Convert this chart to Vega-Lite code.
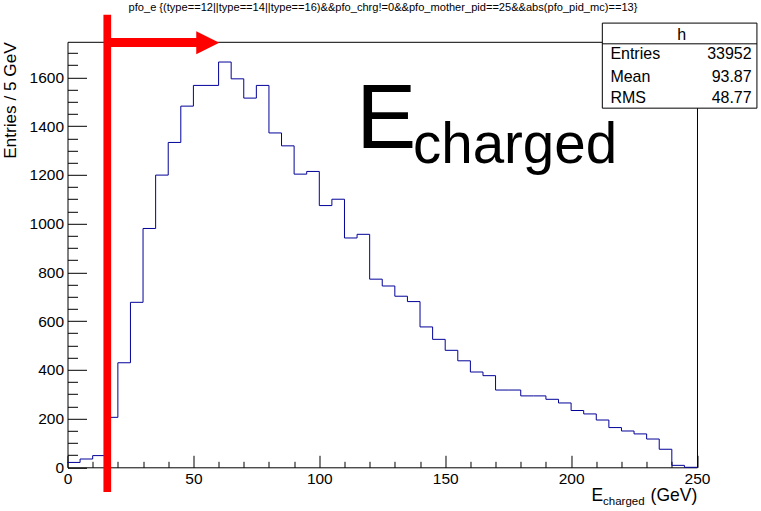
{
  "$schema": "https://vega.github.io/schema/vega-lite/v6.json",
  "autosize": "none",
  "width": 629.5,
  "height": 425.5,
  "padding": {"left": 67.5, "top": 41.8, "right": 64, "bottom": 44},
  "background": "white",
  "config": {
    "font": "Liberation Sans",
    "view": {"stroke": "black", "strokeWidth": 1},
    "axis": {"labelFont": "Liberation Sans", "labelFontSize": 15.5, "labelColor": "black", "tickColor": "black", "tickWidth": 1, "domain": false, "grid": false, "labelFlush": false, "labelOverlap": false, "titleFont": "Liberation Sans", "titleColor": "black"}
  },
  "resolve": {"axis": {"x": "independent", "y": "independent"}},
  "layer": [
    {
      "data": {"values": [
        {"e": 0, "n": 20}, {"e": 5, "n": 34}, {"e": 10, "n": 48}, {"e": 15, "n": 205}, {"e": 20, "n": 429},
        {"e": 25, "n": 677}, {"e": 30, "n": 980}, {"e": 35, "n": 1199}, {"e": 40, "n": 1333}, {"e": 45, "n": 1482},
        {"e": 50, "n": 1567}, {"e": 55, "n": 1567}, {"e": 60, "n": 1663}, {"e": 65, "n": 1594}, {"e": 70, "n": 1515},
        {"e": 75, "n": 1567}, {"e": 80, "n": 1372}, {"e": 85, "n": 1319}, {"e": 90, "n": 1203}, {"e": 95, "n": 1214},
        {"e": 100, "n": 1074}, {"e": 105, "n": 1100}, {"e": 110, "n": 941}, {"e": 115, "n": 956}, {"e": 120, "n": 772},
        {"e": 125, "n": 744}, {"e": 130, "n": 702}, {"e": 135, "n": 680}, {"e": 140, "n": 576}, {"e": 145, "n": 525},
        {"e": 150, "n": 480}, {"e": 155, "n": 437}, {"e": 160, "n": 391}, {"e": 165, "n": 376}, {"e": 170, "n": 317},
        {"e": 175, "n": 317}, {"e": 180, "n": 293}, {"e": 185, "n": 293}, {"e": 190, "n": 279}, {"e": 195, "n": 264},
        {"e": 200, "n": 233}, {"e": 205, "n": 219}, {"e": 210, "n": 194}, {"e": 215, "n": 163}, {"e": 220, "n": 149},
        {"e": 225, "n": 137}, {"e": 230, "n": 116}, {"e": 235, "n": 74}, {"e": 240, "n": 8}, {"e": 245, "n": 0},
        {"e": 250, "n": 0}
      ]},
      "mark": {"type": "line", "interpolate": "step-after", "color": "#000099", "strokeWidth": 1},
      "encoding": {
        "x": {"field": "e", "type": "quantitative", "scale": {"domain": [0, 250], "nice": false, "zero": false},
          "axis": {"orient": "bottom", "values": [0, 50, 100, 150, 200, 250], "tickSize": -12, "labelPadding": 16, "title": null, "format": "d"}},
        "y": {"field": "n", "type": "quantitative", "scale": {"domain": [0, 1746], "nice": false},
          "axis": {"orient": "left", "values": [0, 200, 400, 600, 800, 1000, 1200, 1400, 1600], "tickSize": -19, "labelPadding": 23, "format": "d",
            "title": "Entries / 5 GeV", "titleFontSize": 17.2, "titleFontWeight": "normal", "titleX": -52, "titleY": 0, "titleAlign": "right", "titleAngle": -90, "titleBaseline": "alphabetic"}}
      }
    },
    {
      "data": {"values": [{"e": 15.8, "lo": -101, "hi": 1857}]},
      "mark": {"type": "rule", "color": "#ff0000", "strokeWidth": 7.7},
      "encoding": {
        "x": {"field": "e", "type": "quantitative",
          "axis": {"orient": "bottom", "values": [10, 20, 30, 40, 60, 70, 80, 90, 110, 120, 130, 140, 160, 170, 180, 190, 210, 220, 230, 240], "tickSize": -6, "labels": false, "title": null}},
        "y": {"field": "lo", "type": "quantitative",
          "axis": {"orient": "left", "values": [50, 100, 150, 250, 300, 350, 450, 500, 550, 650, 700, 750, 850, 900, 950, 1050, 1100, 1150, 1250, 1300, 1350, 1450, 1500, 1550, 1650, 1700], "tickSize": -10, "labels": false, "title": null}},
        "y2": {"field": "hi"}
      }
    },
    {
      "data": {"values": [{"e": 15.8, "e2": 52.5, "n": 1743}]},
      "mark": {"type": "rule", "color": "#ff0000", "strokeWidth": 9},
      "encoding": {
        "x": {"field": "e", "type": "quantitative", "axis": null},
        "x2": {"field": "e2"},
        "y": {"field": "n", "type": "quantitative", "axis": null}
      }
    },
    {
      "data": {"values": [{"e": 55.7, "n": 1742}]},
      "mark": {"type": "point", "shape": "M-1,-1L1,0L-1,1Z", "size": 529, "filled": true, "color": "#ff0000", "opacity": 1},
      "encoding": {
        "x": {"field": "e", "type": "quantitative", "axis": null},
        "y": {"field": "n", "type": "quantitative", "axis": null}
      }
    },
    {
      "data": {"values": [{"e1": 212.4, "e2": 273.8, "n1": 1473.7, "n2": 1822.7}]},
      "mark": {"type": "rect", "fill": "white", "stroke": "black", "strokeWidth": 1},
      "encoding": {
        "x": {"field": "e1", "type": "quantitative", "axis": null},
        "x2": {"field": "e2"},
        "y": {"field": "n1", "type": "quantitative", "axis": null},
        "y2": {"field": "n2"}
      }
    },
    {
      "data": {"values": [{"e1": 212.4, "e2": 273.8, "n": 1737.7}]},
      "mark": {"type": "rule", "color": "black", "strokeWidth": 1},
      "encoding": {
        "x": {"field": "e1", "type": "quantitative", "axis": null},
        "x2": {"field": "e2"},
        "y": {"field": "n", "type": "quantitative", "axis": null}
      }
    },
    {
      "data": {"values": [{"t": "h", "e": 243.9, "n": 1754}]},
      "mark": {"type": "text", "align": "center", "baseline": "alphabetic", "fontSize": 16, "color": "black"},
      "encoding": {
        "x": {"field": "e", "type": "quantitative", "axis": null},
        "y": {"field": "n", "type": "quantitative", "axis": null},
        "text": {"field": "t"}
      }
    },
    {
      "data": {"values": [
        {"t": "Entries", "e": 215.6, "n": 1675},
        {"t": "Mean", "e": 215.6, "n": 1583},
        {"t": "RMS", "e": 215.6, "n": 1494}
      ]},
      "mark": {"type": "text", "align": "left", "baseline": "alphabetic", "fontSize": 16, "color": "black"},
      "encoding": {
        "x": {"field": "e", "type": "quantitative", "axis": null},
        "y": {"field": "n", "type": "quantitative", "axis": null},
        "text": {"field": "t"}
      }
    },
    {
      "data": {"values": [
        {"t": "33952", "e": 271.7, "n": 1675},
        {"t": "93.87", "e": 271.7, "n": 1583},
        {"t": "48.77", "e": 271.7, "n": 1494}
      ]},
      "mark": {"type": "text", "align": "right", "baseline": "alphabetic", "fontSize": 16, "color": "black"},
      "encoding": {
        "x": {"field": "e", "type": "quantitative", "axis": null},
        "y": {"field": "n", "type": "quantitative", "axis": null},
        "text": {"field": "t"}
      }
    },
    {
      "data": {"values": [{"t": "E", "e": 114.7, "n": 1309.5}]},
      "mark": {"type": "text", "align": "left", "baseline": "alphabetic", "fontSize": 90, "color": "black"},
      "encoding": {
        "x": {"field": "e", "type": "quantitative", "axis": null},
        "y": {"field": "n", "type": "quantitative", "axis": null},
        "text": {"field": "t"}
      }
    },
    {
      "data": {"values": [{"t": "charged", "e": 137.2, "n": 1248}]},
      "mark": {"type": "text", "align": "left", "baseline": "alphabetic", "fontSize": 56.5, "color": "black"},
      "encoding": {
        "x": {"field": "e", "type": "quantitative", "axis": null},
        "y": {"field": "n", "type": "quantitative", "axis": null},
        "text": {"field": "t"}
      }
    },
    {
      "data": {"values": [{"t": "E", "e": 208.1, "n": -138.3}]},
      "mark": {"type": "text", "align": "left", "baseline": "alphabetic", "fontSize": 17.5, "color": "black"},
      "encoding": {
        "x": {"field": "e", "type": "quantitative", "axis": null},
        "y": {"field": "n", "type": "quantitative", "axis": null},
        "text": {"field": "t"}
      }
    },
    {
      "data": {"values": [{"t": "charged", "e": 212.7, "n": -155}]},
      "mark": {"type": "text", "align": "left", "baseline": "alphabetic", "fontSize": 11.5, "color": "black"},
      "encoding": {
        "x": {"field": "e", "type": "quantitative", "axis": null},
        "y": {"field": "n", "type": "quantitative", "axis": null},
        "text": {"field": "t"}
      }
    },
    {
      "data": {"values": [{"t": "(GeV)", "e": 250.1, "n": -138.3}]},
      "mark": {"type": "text", "align": "right", "baseline": "alphabetic", "fontSize": 17.5, "color": "black"},
      "encoding": {
        "x": {"field": "e", "type": "quantitative", "axis": null},
        "y": {"field": "n", "type": "quantitative", "axis": null},
        "text": {"field": "t"}
      }
    },
    {
      "data": {"values": [{"t": "pfo_e {(type==12||type==14||type==16)&&pfo_chrg!=0&&pfo_mother_pid==25&&abs(pfo_pid_mc)==13}", "e": 125.3, "n": 1873}]},
      "mark": {"type": "text", "align": "center", "baseline": "alphabetic", "fontSize": 11.1, "color": "black"},
      "encoding": {
        "x": {"field": "e", "type": "quantitative", "axis": null},
        "y": {"field": "n", "type": "quantitative", "axis": null},
        "text": {"field": "t"}
      }
    }
  ]
}
